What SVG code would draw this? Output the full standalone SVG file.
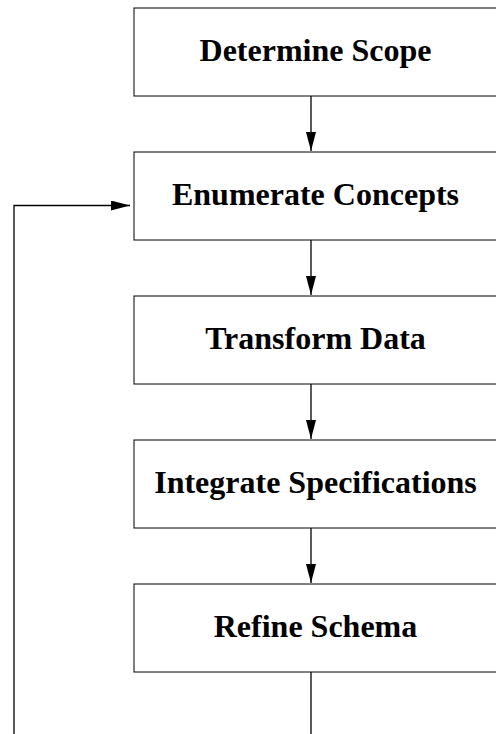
<svg xmlns="http://www.w3.org/2000/svg" width="496" height="734" viewBox="0 0 496 734">
  <style>
    .box { fill: #ffffff; stroke: #000000; stroke-width: 1; }
    .label { font-family: "Liberation Serif", "Times New Roman", serif; font-weight: bold; font-size: 32px; text-anchor: middle; fill: #000000; }
    .conn { fill: none; stroke: #000000; stroke-width: 1.3; }
  </style>
  <defs>
    <marker id="arrow" viewBox="0 0 19 10" refX="19" refY="5" markerWidth="19" markerHeight="10" markerUnits="userSpaceOnUse" orient="auto">
      <path d="M0,0 L19,5 L0,10 Z" fill="#000000"/>
    </marker>
  </defs>
  <rect width="496" height="734" fill="#ffffff"/>

  <g id="determine-scope">
    <rect class="box" x="134" y="8" width="364" height="88"/>
    <text class="label" x="315.5" y="61">Determine Scope</text>
  </g>
  <g id="enumerate-concepts">
    <rect class="box" x="134" y="152" width="364" height="88"/>
    <text class="label" x="315.5" y="205">Enumerate Concepts</text>
  </g>
  <g id="transform-data">
    <rect class="box" x="134" y="296" width="364" height="88"/>
    <text class="label" x="315.5" y="349">Transform Data</text>
  </g>
  <g id="integrate-specifications">
    <rect class="box" x="134" y="440" width="364" height="88"/>
    <text class="label" x="315.5" y="493">Integrate Specifications</text>
  </g>
  <g id="refine-schema">
    <rect class="box" x="134" y="584" width="364" height="88"/>
    <text class="label" x="315.5" y="637">Refine Schema</text>
  </g>

  <g id="connectors">
    <line class="conn" x1="311" y1="96" x2="311" y2="151" marker-end="url(#arrow)"/>
    <line class="conn" x1="311" y1="240" x2="311" y2="295" marker-end="url(#arrow)"/>
    <line class="conn" x1="311" y1="384" x2="311" y2="439" marker-end="url(#arrow)"/>
    <line class="conn" x1="311" y1="528" x2="311" y2="583" marker-end="url(#arrow)"/>
    <!-- loop back from the last step to concept enumeration -->
    <polyline class="conn" points="311,672 311,734"/>
    <polyline class="conn" points="14,734 14,205.5 130,205.5" marker-end="url(#arrow)"/>
  </g>
</svg>
